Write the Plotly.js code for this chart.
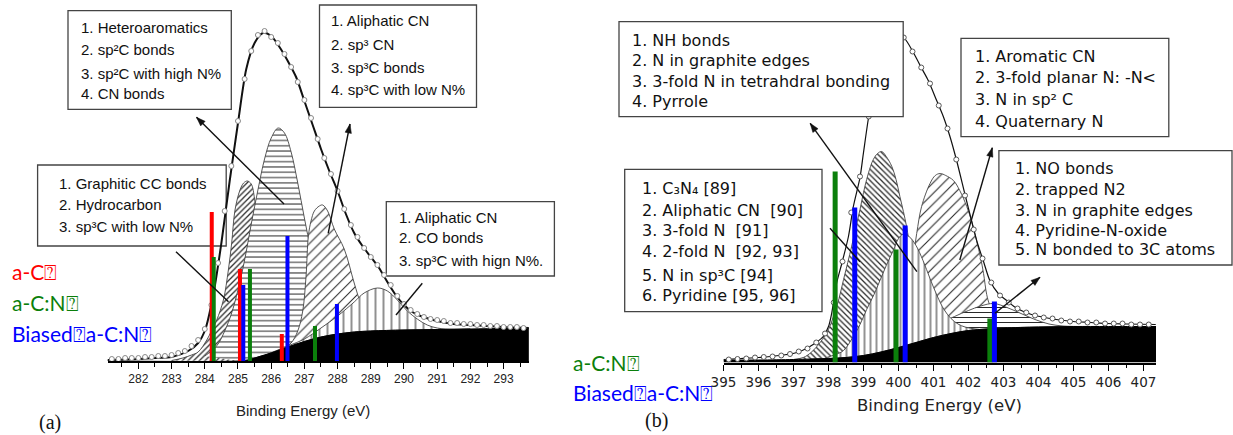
<!DOCTYPE html>
<html><head><meta charset="utf-8">
<script src="https://cdn.plot.ly/plotly-3.0.1.min.js"></script>
<style>html,body{margin:0;padding:0;background:#fff}#chart{width:1233px;height:435px}</style>
</head><body><div id="chart"></div>
<script>
// ================= DATA: panel (a) C 1s =================
const aEnvX = [281.07,282.0,282.5,283.0,283.5,283.8,284.0,284.25,284.5,284.75,285.0,285.25,285.5,285.75,286.0,286.25,286.5,286.75,287.0,287.25,287.5,287.75,288.0,288.25,288.5,288.75,289.0,289.25,289.5,289.75,290.0,290.25,290.5,291.0,291.5,292.0,292.5,293.0,293.76];
const aEnvY = [1,2,3,4,10,18,30,65,118,180,238,292,318,328,325,314,300,284,260,236,212,190,170,147,128,115,104,93,79,66,56,49,45,40,37,36,35,34,33];
const aPtsX = [281.2,281.4,281.6,281.8,282.0,282.2,282.4,282.6,282.8,283.0,283.2,283.4,283.6,283.8,284.0,284.2,284.4,284.6,284.8,285.0,285.2,285.4,285.6,285.8,286.0,286.2,286.4,286.6,286.8,287.0,287.2,287.4,287.6,287.8,288.0,288.2,288.4,288.6,288.8,289.0,289.2,289.4,289.6,289.8,290.0,290.2,290.4,290.6,290.8,291.0,291.2,291.4,291.6,291.8,292.0,292.2,292.4,292.6,292.8,293.0,293.2,293.4,293.6];
const aPtsY = [2,2,3,3,3,4,4,5,5,6,8,10,15,21,32,56,98,150,195,240,282,310,326,330,324,318,307,294,279,261,243,222,203,187,170,152,136,124,113,104,96,86,76,65,57,51,47,44,42,41,40,38,38,37,37,36,36,35,35,34,34,34,33];
const aBgX = [281.07,285.0,285.3,285.6,286.0,286.5,287.0,287.5,288.0,288.5,289.0,290.0,291.0,292.0,293.0,293.76];
const aBgY = [0,0,1,4,8,14,19.5,24,27,29,30,31,31.5,32,32.5,32.5];
const aP1X = [283.0,283.34,283.6,283.8,284.06,284.2,284.36,284.56,284.71,284.81,284.91,285.06,285.17,285.28,285.4,285.5,285.6,285.7,285.8,285.9,286.0,286.1];
const aP1Y = [0.5,3,6,9,21,30,41,61,91,118,151,171,178,180,177,162,130,90,55,30,14,8];
const aP2X = [284.0,284.2,284.4,284.6,284.8,285.0,285.2,285.4,285.6,285.8,286.0,286.21,286.4,286.6,286.8,287.0,287.2,287.4,287.6,287.8,288.0,288.2,288.4];
const aP2Y = [5,10,17,30,47,71,101,137,171,202,223,233,228,209,178,143,110,82,60,45,37,32,29];
const aP3X = [286.4,286.6,286.8,286.95,287.05,287.12,287.2,287.3,287.45,287.55,287.7,287.9,288.2,288.5,288.7,288.9,289.1,289.3];
const aP3Y = [13,18,30,50,85,125,140,150,155,156,150,132,112,78,57,42,34,31];
const aP4X = [285.9,286.5,287.0,287.5,288.0,288.5,288.8,289.2,289.5,289.8,290.1,290.4,290.7,291.0,291.5,292.0];
const aP4Y = [7,15,22,33,45,59,68,73,70,61,50,42,36,33,31.5,32];
// reference bars (binding energies, relative heights)
const aC_X   = [284.21,285.06,286.32];  const aC_Y   = [149,92,27];
const aCN_X  = [284.27,285.36,287.32];  const aCN_Y  = [104,92,35];
const aBCN_X = [285.16,286.49,287.98];  const aBCN_Y = [76,125,57];

// ================= DATA: panel (b) N 1s =================
const bEnvX = [395.0,395.5,396.0,396.33,396.7,396.99,397.25,397.47,397.65,397.85,398.0,398.09,398.23,398.38,398.57,398.71,398.9,399.0,399.14,399.3,399.5,399.7,399.9,400.05,400.22,400.47,400.65,400.85,401.09,401.28,401.47,401.66,401.9,402.1,402.25,402.42,402.61,402.85,403.09,403.3,403.57,403.8,404.04,404.5,404.99,405.5,405.95,406.5,407.35];
const bEnvY = [3,4,5,6,7.5,9,12,16,20,26,36,49,79,99,126,156,185,210,244,275,303,320,328,328,322,307,295,282,262,246,226,202,168,140,120,102,82,69,62,56,51,48,46,43,41,40,39,38.5,38];
const bPtsX = [395.15,395.4,395.65,395.9,396.15,396.4,396.65,396.9,397.15,397.4,397.65,397.9,398.15,398.4,398.65,398.9,399.15,399.4,399.65,399.9,400.15,400.4,400.65,400.9,401.15,401.4,401.65,401.9,402.15,402.4,402.65,402.9,403.15,403.4,403.65,403.9,404.15,404.4,404.65,404.9,405.15,405.4,405.65,405.9,406.15,406.4,406.65,406.9,407.15];
const bPtsY = [3,3.5,4,5,5.5,6,7,8.5,11,14,20,29,60,101,150,186,246,290,318,328,325,311,295,279,257,234,203,167,133,104,80,67,60,54,50,47,45,44,42,41,41,40,40,39,39,39,38,38,38];
const bBgX = [395.0,396.0,397.0,397.5,398.0,398.5,399.0,399.5,400.0,400.5,401.0,401.5,402.0,402.5,403.0,404.0,405.0,406.0,407.36];
const bBgY = [2.5,2.5,3,3.5,4,5,7,10.5,15,20,25,29,32,33.5,34.5,35.5,36,36,36];
const bQ1X = [397.0,397.28,397.5,397.76,398.0,398.14,398.3,398.43,398.55,398.66,398.78,398.9,399.0,399.09,399.2,399.28,399.4,399.52,399.65,399.81,399.93,400.04,400.14,400.23,400.35,400.5,400.65,400.8];
const bQ1Y = [3,5,10,20,33,46,64,83,100,116,135,153,170,183,196,203,209,211,206,196,183,166,151,136,110,75,45,26];
const bQ2X = [397.9,398.2,398.43,398.71,398.9,399.09,399.3,399.47,399.65,399.85,400.0,400.12,400.3,400.5,400.7,400.9,401.1,401.3,401.5,401.7,401.9,402.1,402.3];
const bQ2Y = [4.5,8,12,26,38,53,68,82,97,112,124,128,126,117,102,84,67,53,44,38.5,35.5,34,33];
const bQ3X = [399.7,399.9,400.1,400.25,400.4,400.52,400.66,400.9,401.05,401.19,401.35,401.57,401.75,401.95,402.1,402.23,402.35,402.43,402.52,402.6,402.75,402.9,403.1];
const bQ3Y = [13,20,38,65,100,129,156,179,187,189,187,182,172,156,140,122,104,89,68,58,47,40,35.5];
const bQ4X = [400.4,400.8,401.2,401.6,402.0,402.35,402.72,403.1,403.5,403.9,404.3,404.7,405.1];
const bQ4Y = [20,26,39,46,52,56.5,59,55,49,43,38.5,36.5,36];
const bCN_X  = [398.19,399.93,402.61]; const bCN_Y  = [191,113,44];
const bBCN_X = [398.75,400.19,402.74]; const bBCN_Y = [155,137,61];

// ================= TEXT =================
const boxA1 = ["1. Heteroaromatics","2. sp²C bonds","3. sp²C with high N%","4. CN bonds"];
const boxA2 = ["1. Aliphatic CN","2. sp³ CN","3. sp³C bonds","4. sp³C with low N%"];
const boxA3 = ["1. Graphitic CC bonds","2. Hydrocarbon","3. sp³C with low N%"];
const boxA4 = ["1. Aliphatic CN","2. CO bonds","3. sp³C with hign N%."];
const boxB1 = ["1. NH bonds","2. N in graphite edges","3. 3-fold N in tetrahdral bonding","4. Pyrrole"];
const boxB2 = ["1. Aromatic CN","2. 3-fold planar N: -N&lt;","3. N in sp² C","4. Quaternary N"];
const boxB3 = ["1. C₃N₄ [89]","2. Aliphatic CN  [90]","3. 3-fold N  [91]","4. 2-fold N  [92, 93]","5. N in sp³C [94]","6. Pyridine [95, 96]"];
const boxB4 = ["1. NO bonds","2. trapped N2","3. N in graphite edges","4. Pyridine-N-oxide","5. N bonded to 3C atoms"];
const legA = ["a-C⍰","a-C:N⍰","Biased⍰a-C:N⍰"];
const legB = ["a-C:N⍰","Biased⍰a-C:N⍰"];
const xTitle = "Binding Energy (eV)";

// ================= BUILD =================
const W = 1233, H = 435;
const RED = '#ff0000', GREEN = '#0b7f0b', BLUE = '#0000ff';
const FA = 'Liberation Sans, Arial, sans-serif';
const FB = 'DejaVu Sans, Verdana, sans-serif';
const px = x => x / W, py = y => 1 - y / H;

function poly(pX, pY, bX, bY) {
  const lo = pX[0], hi = pX[pX.length - 1];
  const xs = pX.slice(), ys = pY.slice();
  for (let i = bX.length - 1; i >= 0; i--) if (bX[i] > lo && bX[i] < hi) { xs.push(bX[i]); ys.push(bY[i]); }
  return {x: xs, y: ys};
}
function peak(pX, pY, bX, bY, shape, size, sol, xa, ya) {
  const p = poly(pX, pY, bX, bY);
  return {type:'scatter', mode:'lines', x:p.x, y:p.y, xaxis:xa, yaxis:ya, fill:'toself', fillcolor:'white',
    fillpattern:{shape:shape, size:size, solidity:sol, fgcolor:'#2a2a2a', bgcolor:'white', fillmode:'replace'},
    line:{color:'#444', width:0.9, shape:'spline', smoothing:1}, hoverinfo:'skip'};
}
function bars(X, Y, color, w, xa, ya) {
  const x = [], y = [];
  X.forEach((v, i) => { x.push(v, v, null); y.push(0, Y[i], null); });
  return {type:'scatter', mode:'lines', x, y, xaxis:xa, yaxis:ya, line:{color, width:w}, hoverinfo:'skip'};
}
const traces = [
  peak(aP1X, aP1Y, aBgX, aBgY, '/', 4, 0.32, 'x', 'y'),
  peak(aP2X, aP2Y, aBgX, aBgY, '-', 5.3, 0.19, 'x', 'y'),
  peak(aP3X, aP3Y, aBgX, aBgY, '/', 7, 0.15, 'x', 'y'),
  peak(aP4X, aP4Y, aBgX, aBgY, '|', 8, 0.13, 'x', 'y'),
  {type:'scatter', mode:'lines', x:aBgX, y:aBgY, xaxis:'x', yaxis:'y', fill:'tozeroy', fillcolor:'#000', line:{color:'#000', width:1, shape:'spline'}},
  {type:'scatter', mode:'lines', x:aEnvX, y:aEnvY, xaxis:'x', yaxis:'y', line:{color:'#111', width:2, shape:'spline', smoothing:0.8}},
  {type:'scatter', mode:'markers', x:aPtsX, y:aPtsY, xaxis:'x', yaxis:'y', marker:{symbol:'circle', size:5, color:'white', line:{color:'#888', width:1}}},
  bars(aC_X, aC_Y, RED, 4, 'x', 'y'),
  bars(aCN_X, aCN_Y, GREEN, 4, 'x', 'y'),
  bars(aBCN_X, aBCN_Y, BLUE, 4, 'x', 'y'),

  peak(bQ1X, bQ1Y, bBgX, bBgY, '\\', 4, 0.32, 'x2', 'y2'),
  peak(bQ3X, bQ3Y, bBgX, bBgY, '/', 7.5, 0.15, 'x2', 'y2'),
  peak(bQ4X, bQ4Y, bBgX, bBgY, '-', 5, 0.2, 'x2', 'y2'),
  peak(bQ2X, bQ2Y, bBgX, bBgY, '|', 6, 0.17, 'x2', 'y2'),
  {type:'scatter', mode:'lines', x:bBgX, y:bBgY, xaxis:'x2', yaxis:'y2', fill:'tozeroy', fillcolor:'#000', line:{color:'#000', width:1, shape:'spline'}},
  {type:'scatter', mode:'lines', x:bEnvX, y:bEnvY, xaxis:'x2', yaxis:'y2', line:{color:'#111', width:1.2, shape:'spline', smoothing:0.8}},
  {type:'scatter', mode:'markers', x:bPtsX, y:bPtsY, xaxis:'x2', yaxis:'y2', marker:{symbol:'circle', size:5, color:'white', line:{color:'#555', width:1}}},
  bars(bCN_X, bCN_Y, GREEN, 5, 'x2', 'y2'),
  bars(bBCN_X, bBCN_Y, BLUE, 5, 'x2', 'y2')
];

const shapes = [], annotations = [];
function box(lines, rect, ys, left, font, size, layer) {
  shapes.push({type:'rect', xref:'paper', yref:'paper', x0:px(rect[0]), x1:px(rect[2]), y0:py(rect[3]), y1:py(rect[1]),
    line:{color:'#444', width:1.3}, fillcolor:'white', layer});
  lines.forEach((t, i) => annotations.push({xref:'paper', yref:'paper', x:px(left), y:py(ys[i]), xanchor:'left', yanchor:'middle',
    text:t, showarrow:false, font:{family:font, size, color:'#111'}}));
}
box(boxA1, [68,10.7,231.3,109.3], [27.3,50,73.3,93.3], 79, FA, 15, 'below');
box(boxA2, [319.5,5,476.5,107.3], [21,44,67.7,90], 329.4, FA, 15, 'below');
box(boxA3, [37.6,165,226.2,246], [183.7,204,226.7], 56.5, FA, 15, 'below');
box(boxA4, [386.3,201.7,554.4,276], [217.3,237.3,260], 396.6, FA, 15, 'below');
box(boxB1, [619,21.7,903.2,116.7], [40,60.7,81,101.7], 629.8, FB, 16, 'above');
box(boxB2, [961,38.3,1168.8,136.7], [56.7,77.3,100,121.7], 972.7, FB, 16, 'above');
box(boxB3, [624.7,169.3,822,311.7], [188.3,210.7,230.7,251.7,275,295], 640.3, FB, 16, 'above');
box(boxB4, [998.9,150.7,1232,265], [168.3,189,210,230,250], 1012.6, FB, 16, 'above');

// pointer lines (paper/pixel geometry), with optional filled arrowhead at the first point
function pointer(tip, tail, head) {
  shapes.push({type:'line', xref:'paper', yref:'paper', x0:px(tip[0]), y0:py(tip[1]), x1:px(tail[0]), y1:py(tail[1]),
    line:{color:'#111', width:1.4}, layer:'above'});
  if (head) {
    const dx = tail[0]-tip[0], dy = tail[1]-tip[1], L = Math.hypot(dx, dy), ux = dx/L, uy = dy/L;
    const bx = tip[0]+ux*9, by = tip[1]+uy*9, nx = -uy*3.2, ny = ux*3.2;
    const pts = [[tip[0],tip[1]],[bx+nx,by+ny],[bx-nx,by-ny]];
    shapes.push({type:'path', xref:'paper', yref:'paper', layer:'above',
      path:'M'+pts.map(p => px(p[0])+','+py(p[1])).join('L')+'Z', fillcolor:'#111', line:{color:'#111', width:0.5}});
  }
}
pointer([196.5,117.3],[284,204], true);
pointer([350,124],[328.2,233.3], true);
pointer([176,251.7],[228.5,301.7], false);
pointer([422.3,283.3],[396,315], false);
pointer([810.2,123.3],[916.9,271.7], true);
pointer([992.3,147.7],[959.8,260], true);
pointer([830,228.3],[860,261.7], false);
pointer([1040,277.3],[995,313.3], true);

const legFont = 'Lato, Open Sans, sans-serif';
const legColA = [RED, GREEN, BLUE], legYA = [271.7, 302, 333.3];
legA.forEach((t, i) => annotations.push({xref:'paper', yref:'paper', x:px(10), y:py(legYA[i]), xanchor:'left', yanchor:'middle', text:t, showarrow:false, font:{family:legFont, size:21, color:legColA[i]}}));
const legColB = [GREEN, BLUE], legYB = [362, 392.5];
legB.forEach((t, i) => annotations.push({xref:'paper', yref:'paper', x:px(571), y:py(legYB[i]), xanchor:'left', yanchor:'middle', text:t, showarrow:false, font:{family:legFont, size:21, color:legColB[i]}}));

annotations.push({xref:'paper', yref:'paper', x:px(303), y:py(410), xanchor:'center', yanchor:'middle', text:xTitle, showarrow:false, font:{family:FA, size:15, color:'#222'}});
annotations.push({xref:'paper', yref:'paper', x:px(939), y:py(405), xanchor:'center', yanchor:'middle', text:xTitle, showarrow:false, font:{family:FB, size:16.5, color:'#222'}});
annotations.push({xref:'paper', yref:'paper', x:px(37), y:py(422), xanchor:'left', yanchor:'middle', text:'(a)', showarrow:false, font:{family:'Liberation Serif, Times New Roman, serif', size:20, color:'#111'}});
annotations.push({xref:'paper', yref:'paper', x:px(643), y:py(420), xanchor:'left', yanchor:'middle', text:'(b)', showarrow:false, font:{family:'Liberation Serif, Times New Roman, serif', size:20, color:'#111'}});

const xcommon = {showline:true, linecolor:'#000', linewidth:2, ticks:'outside', ticklen:6, tickwidth:1, tickcolor:'#000',
  dtick:1, showgrid:false, zeroline:false, fixedrange:true,
  minor:{dtick:0.5, ticks:'outside', ticklen:3.5, tickwidth:1, tickcolor:'#000', showgrid:false}};
const layout = {
  width:W, height:H, margin:{l:0, r:0, t:0, b:0}, showlegend:false,
  paper_bgcolor:'white', plot_bgcolor:'rgba(0,0,0,0)',
  xaxis: Object.assign({}, xcommon, {domain:[px(107.5), px(529)], range:[281.07, 293.765], anchor:'y', tick0:282,
    tickfont:{family:FA, size:12, color:'#222'}}),
  yaxis: {domain:[py(361), 1], range:[0, 361], visible:false, fixedrange:true},
  xaxis2: Object.assign({}, xcommon, {domain:[px(723.5), px(1156)], range:[395, 407.357], anchor:'y2', tick0:395,
    tickfont:{family:FB, size:13.5, color:'#222'}}),
  yaxis2: {domain:[py(362.5), 1], range:[0, 362.5], visible:false, fixedrange:true, anchor:'x2'},
  shapes, annotations
};
Plotly.newPlot('chart', traces, layout, {staticPlot:true, displayModeBar:false});
</script>
</body></html>
